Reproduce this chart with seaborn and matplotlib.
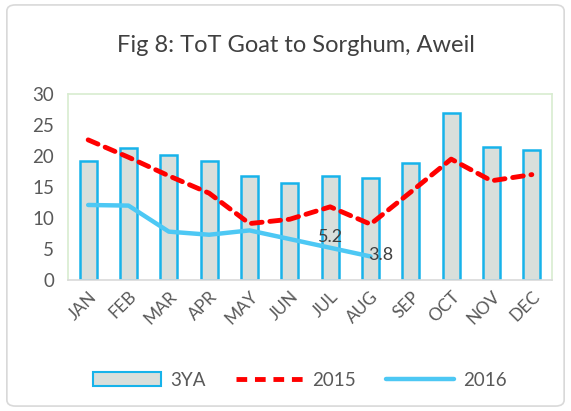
import matplotlib
matplotlib.use("Agg")
import matplotlib.pyplot as plt
import seaborn as sns
import pandas as pd
import numpy as np
from matplotlib.patches import FancyBboxPatch, Patch
from matplotlib.lines import Line2D

months = ["JAN", "FEB", "MAR", "APR", "MAY", "JUN", "JUL", "AUG", "SEP", "OCT", "NOV", "DEC"]
ya3 = [19.2, 21.3, 20.2, 19.2, 16.7, 15.7, 16.8, 16.4, 18.9, 26.9, 21.5, 20.9]
y2015 = [22.6, 19.8, 16.8, 14.0, 9.1, 9.8, 11.8, 9.0, 14.2, 19.5, 16.0, 17.0]
y2016 = [12.1, 12.0, 7.8, 7.3, 8.0, 6.6, 5.2, 3.8]
labels2016 = {"JUL": "5.2", "AUG": "3.8"}

sns.set_theme(style="white")
plt.rcParams["font.family"] = ["Lato", "DejaVu Sans"]

fig = plt.figure(figsize=(5.71, 4.11), dpi=100)
ax = fig.add_axes([68/571, 1-280/411, (552-68)/571, (280-94)/411])

df = pd.DataFrame({"month": months, "3YA": ya3})
sns.barplot(data=df, x="month", y="3YA", ax=ax, color="#d9dfdb", width=0.42,
            edgecolor="#17b3ea", linewidth=1.8, saturation=1)
x = np.arange(len(months))
ax.plot(x, y2015, color="#ff0000", lw=3.5, ls=(0, (2.2, 1.6)), solid_capstyle="round", dash_capstyle="round")
ax.plot(x[:len(y2016)], y2016, color="#4dc8f4", lw=3.2, solid_capstyle="round")

for m, t in labels2016.items():
    i = months.index(m)
    v = y2016[i]
    if m == "JUL":
        ax.text(i, v + 0.5, t, ha="center", va="bottom", fontsize=13, color="#404040")
    else:
        ax.text(i - 0.05, v + 0.3, t, ha="left", va="center", fontsize=13, color="#404040")

ax.set_ylim(0, 30)
ax.set_xlim(-0.5, 11.5)
ax.set_yticks([0, 5, 10, 15, 20, 25, 30])
ax.set_xlabel("")
ax.set_ylabel("")
ax.tick_params(axis="y", labelsize=13.5, colors="#595959", length=0, pad=10)
ax.tick_params(axis="x", labelsize=12.5, colors="#595959", length=0, pad=6)
for lab in ax.get_xticklabels():
    lab.set_rotation(45)
    lab.set_ha("right")
    lab.set_rotation_mode("anchor")
for s in ax.spines.values():
    s.set_color("#d8ecd0")
    s.set_linewidth(1.2)
ax.spines["bottom"].set_color("#d9d9d9")

fig.text(296/571, 1-45/411, "Fig 8: ToT Goat to Sorghum, Aweil", ha="center", va="center",
         fontsize=17, color="#404040")

handles = [Patch(facecolor="#d9dfdb", edgecolor="#17b3ea", linewidth=1.5),
           Line2D([], [], color="#ff0000", lw=3.5, ls=(0, (2.2, 1.6))),
           Line2D([], [], color="#4dc8f4", lw=3.2)]
leg = fig.legend(handles, ["3YA", "2015", "2016"], loc="center", bbox_to_anchor=(300/571, 1-380/411),
                 ncol=3, frameon=False, fontsize=13.5, handlelength=3.6, columnspacing=1.6,
                 handleheight=0.7, handletextpad=0.5)
for t in leg.get_texts():
    t.set_color("#595959")

border = FancyBboxPatch((0.012, 0.012), 0.976, 0.976, boxstyle="round,pad=0,rounding_size=0.015",
                        transform=fig.transFigure, fill=False, edgecolor="#d9d9d9", lw=1.2)
fig.patches.append(border)

fig.savefig("out.png", dpi=100)
